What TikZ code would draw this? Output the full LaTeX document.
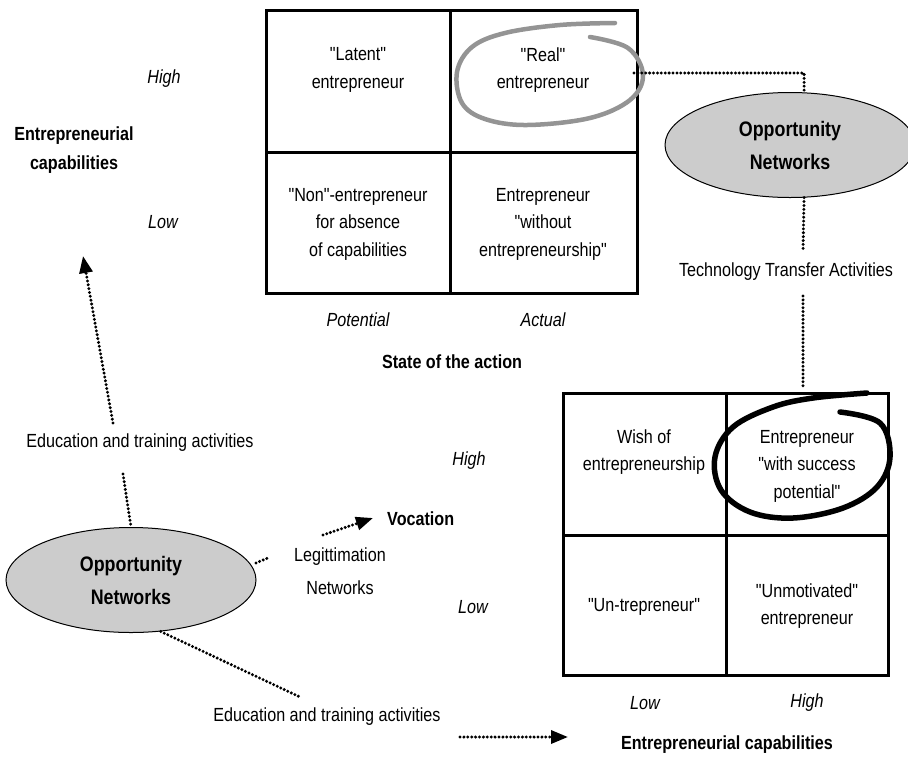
\documentclass[tikz,border=0pt]{standalone}
\usepackage{fontspec}
\setmainfont{Liberation Sans}[FakeStretch=0.85, Ligatures=TeXOff]
\usetikzlibrary{arrows.meta,shapes.geometric}
\definecolor{ellfill}{gray}{0.8}
\definecolor{penGrey}{gray}{0.58}

\begin{document}
\begin{tikzpicture}[x=1pt,y=-1pt,
  body/.style={font=\fontsize{19}{27.5}\selectfont, align=center, inner sep=0pt},
  axis/.style={font=\fontsize{19}{27.5}\selectfont\itshape, align=center, inner sep=0pt},
  head/.style={font=\fontsize{19}{29}\selectfont\bfseries, align=center, inner sep=0pt},
  opnet/.style={draw, line width=1pt, fill=ellfill, ellipse, inner sep=0pt,
    minimum width=250pt, minimum height=105pt,
    font=\fontsize{21}{33}\selectfont\bfseries, align=center},
  grid/.style={line width=3pt},
  dotline/.style={line width=3.3pt, dash pattern=on 0pt off 3.9pt, line cap=round},
  dotarrow/.style={dotline, -{Triangle[length=17pt,width=13pt]}},
  pen/.style={line width=#1, line cap=round, line join=round}
]
\useasboundingbox (0,0) rectangle (908,756);

% ---------- upper matrix: state of the action x capabilities ----------
\draw[grid] (266,10) rectangle (637,293);
\draw[grid] (450,10) -- (450,293);
\draw[grid] (266,152) -- (637,152);

\node[body] (lat)  at (358,70)  {"Latent"\\entrepreneur};
\node[body] (real) at (543,70)  {"Real"\\entrepreneur};
\node[body] (non)  at (358,224) {"Non"-entrepreneur\\for absence\\of capabilities};
\node[body] (woe)  at (543,224) {Entrepreneur\\"without\\entrepreneurship"};

\node[axis] (hiA) at (164,79)  {High};
\node[axis] (loA) at (163,222) {Low};
\node[head] (ecA) at (74,150)  {Entrepreneurial\\capabilities};
\node[axis] (pot) at (358,320) {Potential};
\node[axis] (act) at (543,320) {Actual};
\node[head] (sta) at (452,362) {State of the action};

% hand-drawn ring round the "Real" cell
\draw[pen=4.5pt, penGrey] plot[smooth, tension=0.6] coordinates {
  (615,23) (560,25) (505,33) (472,47) (457,72) (462,103) (485,119)
  (527,125) (590,118) (630,100) (643,75) (628,48) (590,37)};

% ---------- right-hand opportunity networks ----------
\node[opnet] (onR) at (790,145) {Opportunity\\Networks};
\node[body] (tta) at (786,272) {Technology Transfer Activities};

\coordinate (rA) at (634,73);
\coordinate (tA) at (803,250);
\coordinate (tB) at (803,296);
\coordinate (tC) at (803,388);
\draw[dotline] (rA) -| (onR.75);
\draw[dotline] (onR.-75) -- (tA);
\draw[dotline] (tB) -- (tC);

% ---------- lower matrix: vocation x capabilities ----------
\draw[grid] (563,393) rectangle (888,675);
\draw[grid] (726,393) -- (726,675);
\draw[grid] (563,535) -- (888,535);

\node[body] (wish) at (644,452) {Wish of\\entrepreneurship};
\node[body] (wsp)  at (807,466) {Entrepreneur\\"with success\\potential"};
\node[body] (unt)  at (644,607) {"Un-trepreneur"};
\node[body] (unm)  at (807,606) {"Unmotivated"\\entrepreneur};

\node[axis] (hiB) at (469,461) {High};
\node[axis] (loB) at (473,607) {Low};
\node[axis] (loC) at (645,703) {Low};
\node[axis] (hiC) at (807,703) {High};
\node[head] (ecB) at (727,745) {Entrepreneurial capabilities};

% hand-drawn ring round the "with success potential" cell
\draw[pen=5.5pt, black] plot[smooth, tension=0.6] coordinates {
  (867,393) (813,398) (773,407) (733,427) (715,457) (721,490) (750,512)
  (793,518) (843,508) (877,487) (890,457) (880,423) (840,412)};

% ---------- left-hand opportunity networks ----------
\node[opnet] (onL) at (131,580) {Opportunity\\Networks};
\node[body] (eduA) at (140,443) {Education and training activities};
\node[font=\fontsize{19}{33}\selectfont, align=center, inner sep=0pt] (leg) at (340,571) {Legittimation\\Networks};
\node[head, anchor=west] (voc) at (387,519) {Vocation};
\node[body] (eduB) at (327,717) {Education and training activities};

\coordinate (cA1) at (113,423);
\coordinate (cA2) at (83,256);
\coordinate (eA)  at (123,474);
\coordinate (lS)  at (256,563);
\coordinate (lE)  at (270,557);
\coordinate (vA1) at (323,535);
\coordinate (vA2) at (373,518);
\coordinate (bE)  at (300,697);
\coordinate (bA1) at (460,737);
\coordinate (bA2) at (568,737);

\draw[dotarrow] (cA1) -- (cA2);
\draw[dotline] (eA) -- (onL.north);
\draw[dotline] (lS) -- (lE);
\draw[dotarrow] (vA1) -- (vA2);
\draw[dotline] (onL.-60) -- (bE);
\draw[dotarrow] (bA1) -- (bA2);
\end{tikzpicture}
\end{document}
